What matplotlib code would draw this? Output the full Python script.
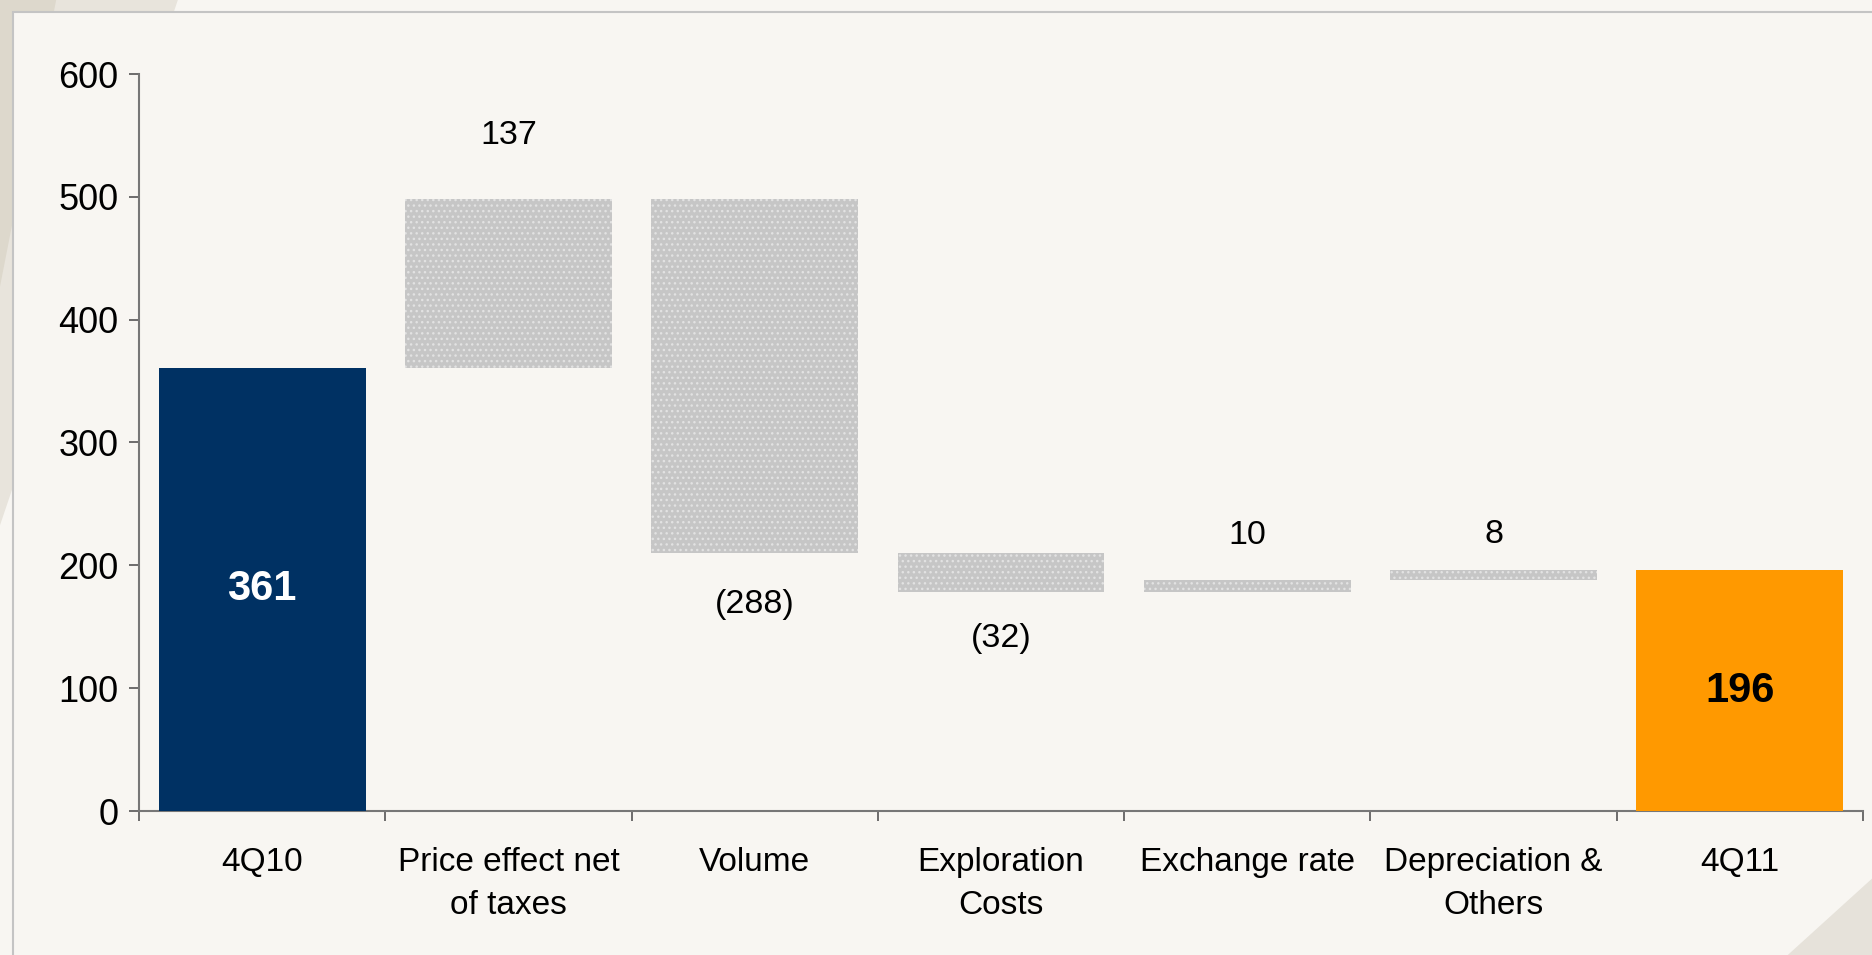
import numpy as np
import matplotlib.pyplot as plt
from matplotlib.patches import Rectangle, Polygon

plt.rcParams['font.family'] = ['Liberation Sans', 'DejaVu Sans']

# Data
categories = ['4Q10', 'Price effect net\nof taxes', 'Volume', 'Exploration\nCosts',
              'Exchange rate', 'Depreciation &\nOthers', '4Q11']
start_value = 361
changes = [137, -288, -32, 10, 8]
end_value = 196
change_labels = ['137', '(288)', '(32)', '10', '8']
label_offsets = [46, -37, -33, 32, 26]  # points from bar edge to label centre

bg = '#f8f6f2'
fig = plt.figure(figsize=(18.72, 9.55), dpi=100, facecolor=bg)

# decorative corner shading and frame
fig.patches.append(Polygon([[0, 1], [0.095, 1], [0.0, 0.45]], closed=True,
                           transform=fig.transFigure, facecolor='#e8e4dc', edgecolor='none', zorder=-3))
fig.patches.append(Polygon([[0, 1], [0.03, 1], [0.0, 0.7]], closed=True,
                           transform=fig.transFigure, facecolor='#ddd8cc', edgecolor='none', zorder=-3))
fig.patches.append(Polygon([[1, 0], [0.955, 0], [1, 0.08]], closed=True,
                           transform=fig.transFigure, facecolor='#e6e2da', edgecolor='none', zorder=-1))
fig.patches.append(Rectangle((13 / 1872, -0.01), 1.0, 1 - 12 / 955 + 0.01,
                             transform=fig.transFigure, facecolor=bg,
                             edgecolor='#c4c4c4', linewidth=1.5, zorder=-2))

ax = fig.add_axes([139 / 1872, 1 - 811 / 955, (1863 - 139) / 1872, (811 - 74) / 955])
ax.set_facecolor('none')

x = np.arange(len(categories))
width = 0.84

# totals
ax.bar(x[0], start_value, width=width, color='#003163', zorder=3)
ax.bar(x[-1], end_value, width=width, color='#ff9900', zorder=3)

# floating changes
level = start_value
for i, c in enumerate(changes):
    bottom = level if c > 0 else level + c
    ax.bar(x[i + 1], abs(c), bottom=bottom, width=width, color='#c6c6c6',
           edgecolor='#e2e2e2', hatch='...', linewidth=0, zorder=3)
    ax.annotate(change_labels[i], (x[i + 1], level + c), xytext=(0, label_offsets[i]),
                textcoords='offset points', ha='center', va='center', fontsize=24.5)
    level += c

ax.text(x[0], start_value / 2, str(start_value), ha='center', va='center',
        fontsize=30, fontweight='bold', color='white', zorder=4)
ax.text(x[-1], end_value / 2, str(end_value), ha='center', va='center',
        fontsize=30, fontweight='bold', color='black', zorder=4)

ax.set_xlim(-0.5, len(categories) - 0.5)
ax.set_ylim(0, 600)
ax.set_yticks(np.arange(0, 601, 100))
ax.tick_params(axis='y', labelsize=26, length=7, width=1.2, color='#555555', pad=8)

ax.set_xticks(np.arange(-0.5, len(categories), 1.0))
ax.set_xticklabels([])
ax.tick_params(axis='x', which='major', length=7, width=1.2, color='#555555')
ax.set_xticks(x, minor=True)
ax.set_xticklabels(categories, minor=True, fontsize=24, linespacing=1.5)
ax.tick_params(axis='x', which='minor', length=0, pad=26)

for side in ['top', 'right']:
    ax.spines[side].set_visible(False)
for side in ['left', 'bottom']:
    ax.spines[side].set_color('#777777')
    ax.spines[side].set_linewidth(1.5)

fig.savefig('out.png', dpi=100, facecolor=bg)
